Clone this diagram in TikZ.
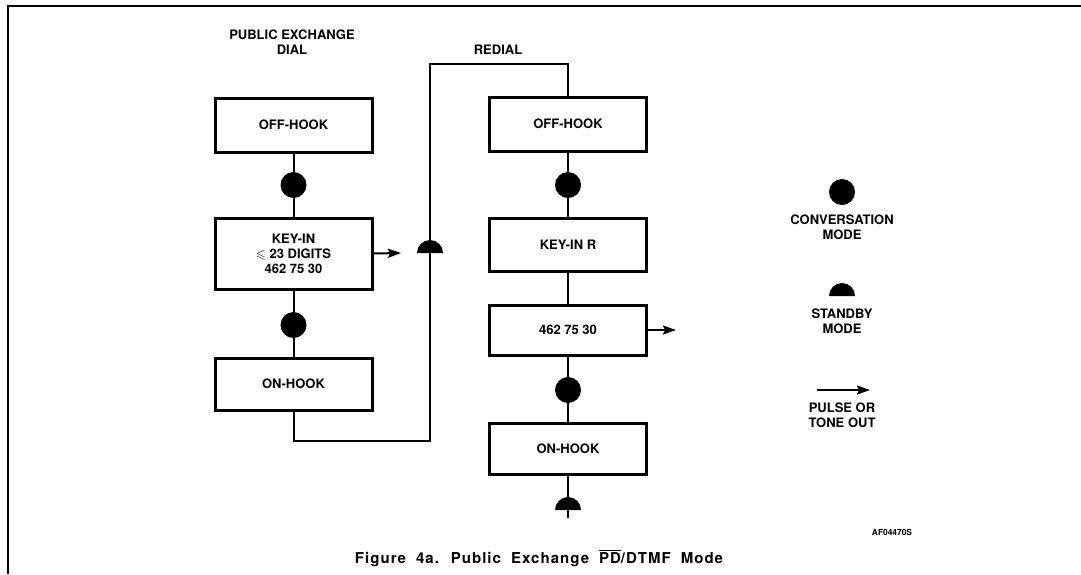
\documentclass[tikz,border=0pt]{standalone}
\usepackage{amssymb}
\usepackage{fontspec}
\setmainfont{TeX Gyre Heros}
\usetikzlibrary{arrows.meta}
\newcommand{\capfont}{\fontsize{15}{17}\selectfont\bfseries\addfontfeature{LetterSpace=7}\spaceskip=10pt\relax}
\begin{document}
\begin{tikzpicture}[x=1pt,y=1pt,
  box/.style={draw,line width=3pt,minimum width=157pt,inner sep=0pt,font=\lbl,align=center},
  conv/.style={circle,fill,minimum size=26pt,inner sep=0pt},
  wire/.style={line width=2pt},
  pulse/.style={line width=2pt,-{Stealth[length=13pt,width=9pt,inset=2pt]}},
  txt/.style={font=\lbl,align=center,inner sep=0pt}]
\newcommand{\lbl}{\fontsize{13}{15}\selectfont\bfseries}
\newcommand{\semi}[1]{\fill (#1) ++(-13,0) arc (180:0:13) -- cycle;}
\useasboundingbox (0,0) rectangle (1081,-574);
% frame
\draw[line width=2pt] (8,-574) -- (8,-6) -- (1081,-6);
% headers
\node[txt] (hpub) at (292,-42.5) {PUBLIC EXCHANGE\\DIAL};
\node[txt] (hred) at (498,-50) {REDIAL};
% left column
\node[box,minimum height=54pt] (offL) at (293.5,-125) {OFF-HOOK};
\node[box,minimum height=71pt] (keyL) at (293.5,-253.5) {KEY-IN\\$\leqslant$ 23 DIGITS\\462 75 30};
\node[box,minimum height=52pt] (onL) at (293.5,-384) {ON-HOOK};
\node[conv] (cL1) at (293.5,-185) {};
\node[conv] (cL2) at (293.5,-325) {};
% right column
\node[box,minimum height=54pt] (offR) at (568,-124) {OFF-HOOK};
\node[box,minimum height=53pt] (keyR) at (568,-244.5) {KEY-IN R};
\node[box,minimum height=50pt] (numR) at (568,-330) {462 75 30};
\node[box,minimum height=51pt] (onR) at (568,-448.5) {ON-HOOK};
\node[conv] (cR1) at (568,-185) {};
\node[conv] (cR2) at (568,-390) {};
% coordinates
\coordinate (loopB) at (430,-441);
\coordinate (loopT) at (430,-64);
\coordinate (sbL) at (430,-253);
\coordinate (sbR) at (568,-510);
\coordinate (endR) at (568,-518);
\coordinate (outL) at (401,-253);
\coordinate (outR) at (676,-330);
% connectors
\draw[wire] (offL) -- (cL1) -- (keyL);
\draw[wire] (keyL) -- (cL2) -- (onL);
\draw[wire] (onL.south) |- (loopB) -- (loopT) -| (offR.north);
\draw[wire] (offR) -- (cR1) -- (keyR);
\draw[wire] (keyR) -- (numR);
\draw[wire] (numR) -- (cR2) -- (onR);
\draw[wire] (onR.south) -- (endR);
\semi{sbL}
\semi{sbR}
\draw[pulse] (keyL.east) -- (outL);
\draw[pulse] (numR.east) -- (outR);
% legend
\node[conv] (legC) at (842,-192) {};
\node[txt] (legCt) at (842,-227) {CONVERSATION\\MODE};
\coordinate (legS) at (842,-296);
\semi{legS}
\node[txt] (legSt) at (842,-321) {STANDBY\\MODE};
\coordinate (legA1) at (817,-390);
\coordinate (legA2) at (870,-390);
\draw[pulse] (legA1) -- (legA2);
\node[txt] (legAt) at (842,-415) {PULSE OR\\TONE OUT};
% id
\node[inner sep=0pt,font=\fontsize{8.4}{10}\selectfont\bfseries] (id) at (892,-532) {AF04470S};
% caption
\node[inner sep=0pt,font=\capfont] (cap) at (539,-558) {Figure 4a. Public Exchange $\overline{\hbox{PD}}$/DTMF Mode};
\end{tikzpicture}
\end{document}
